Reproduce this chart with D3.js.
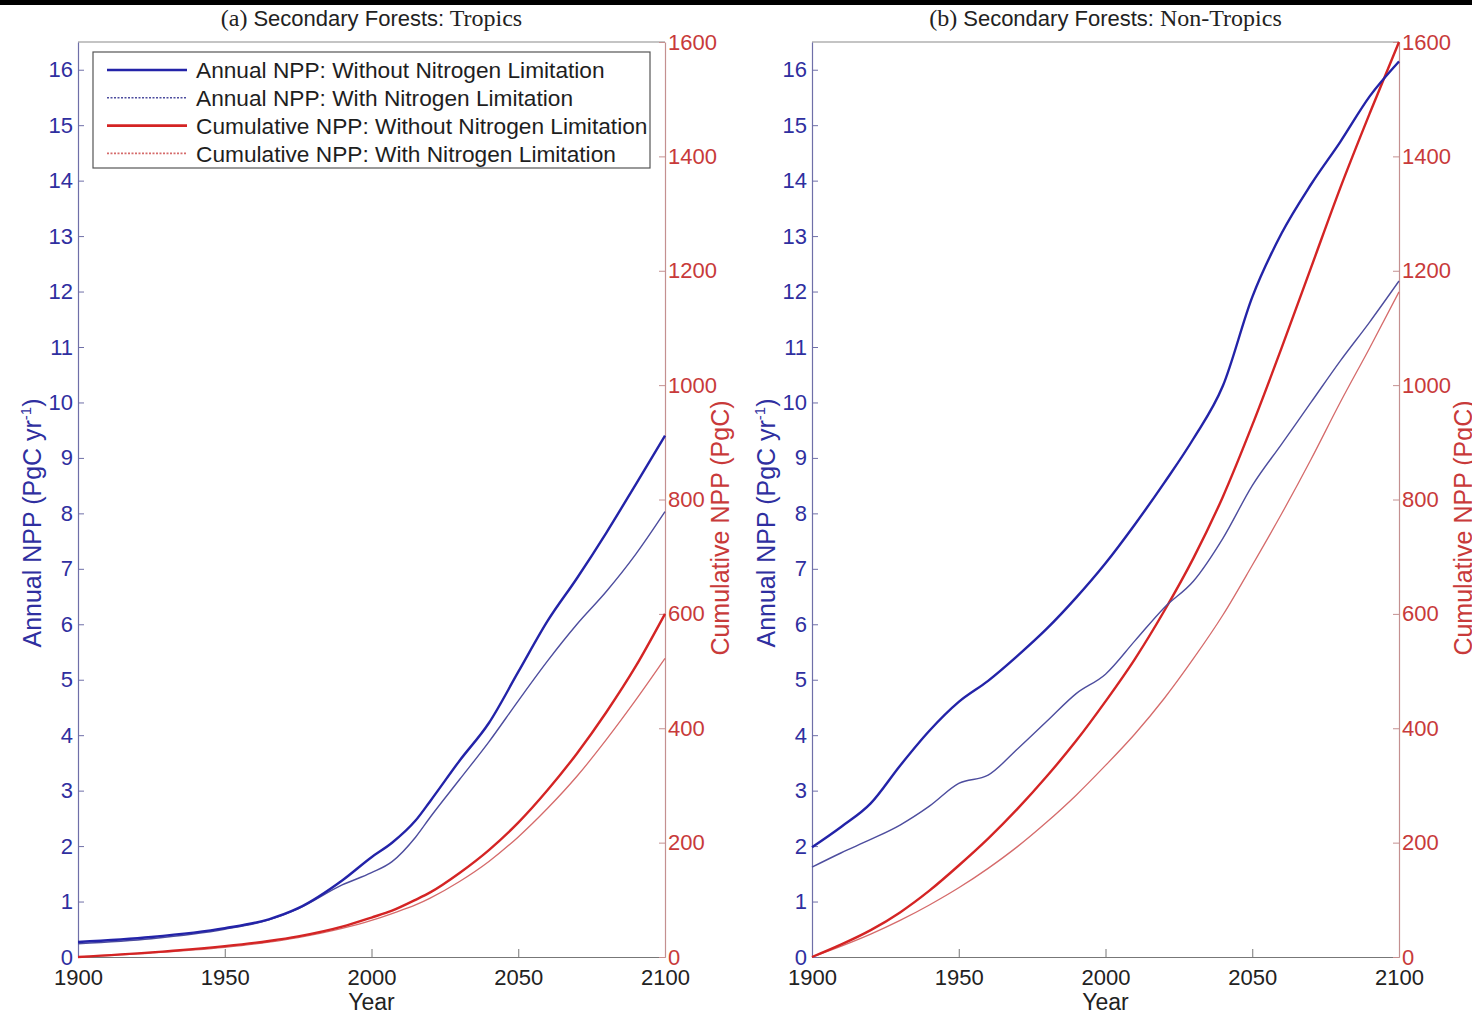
<!DOCTYPE html>
<html>
<head>
<meta charset="utf-8">
<script src="https://cdn.jsdelivr.net/npm/d3@7"></script>
<style>
  body { margin: 0; background: #fff; }
  svg { display: block; }
</style>
</head>
<body>
<div id="chart"></div>
<script>
// years sampled for each panel
const yearsTropics = [1900, 1925, 1950, 1965, 1975, 1990, 2000, 2007, 2015, 2020, 2030, 2040, 2050, 2060, 2070, 2080, 2090, 2100];
const yearsNonTropics = [1900, 1910, 1920, 1930, 1940, 1950, 1960, 1970, 1980, 1990, 2000, 2010, 2020, 2030, 2040, 2050, 2060, 2070, 2080, 2090, 2100];

// (a) tropics, PgC/yr and PgC
const annualTropicsNoN = [0.27, 0.36, 0.52, 0.68, 0.88, 1.38, 1.80, 2.06, 2.46, 2.81, 3.54, 4.22, 5.14, 6.06, 6.83, 7.65, 8.52, 9.40];
const annualTropicsN = [0.24, 0.33, 0.50, 0.67, 0.87, 1.30, 1.52, 1.72, 2.16, 2.52, 3.20, 3.88, 4.62, 5.34, 6.00, 6.59, 7.26, 8.03];
const cumTropicsNoN = [0, 8, 19, 28, 36, 53, 69, 81, 100, 113, 147, 187, 235, 292, 356, 428, 508, 600];
const cumTropicsN = [0, 7, 17, 26, 34, 50, 64, 76, 91, 103, 132, 167, 210, 260, 316, 380, 449, 522];

// (b) non-tropics
const annualNonTropicsNoN = [1.98, 2.35, 2.77, 3.45, 4.08, 4.60, 4.98, 5.43, 5.92, 6.48, 7.10, 7.80, 8.55, 9.35, 10.30, 11.90, 13.05, 13.93, 14.70, 15.52, 16.15];
const annualNonTropicsN = [1.62, 1.88, 2.12, 2.38, 2.72, 3.13, 3.28, 3.75, 4.25, 4.75, 5.10, 5.70, 6.30, 6.78, 7.55, 8.50, 9.25, 10.00, 10.75, 11.45, 12.19];
const cumNonTropicsNoN = [0, 22, 47, 78, 116, 160, 207, 259, 316, 378, 447, 521, 605, 698, 805, 930, 1065, 1205, 1345, 1475, 1600];
const cumNonTropicsN = [0, 19, 40, 64, 91, 121, 155, 193, 236, 283, 335, 390, 452, 522, 598, 685, 775, 870, 970, 1065, 1163];

// axes
const xTicks = [1900, 1950, 2000, 2050, 2100];
const annualTicks = d3.range(0, 17);
const cumTicks = [0, 200, 400, 600, 800, 1000, 1200, 1400, 1600];
const legendLabels = [
    'Annual NPP: Without Nitrogen Limitation',
    'Annual NPP: With Nitrogen Limitation',
    'Cumulative NPP: Without Nitrogen Limitation',
    'Cumulative NPP: With Nitrogen Limitation'
];

const W = 1472, H = 1014;
const TOP = 42, BOTTOM = 957;
const BLUE = '#2323a8', BLUE_THIN = '#4d4d9e', RED = '#d42424', RED_THIN = '#d56b6b';
const SANS = 'Liberation Sans, Arial, Helvetica, sans-serif';
const SERIF = 'Liberation Serif, Times New Roman, serif';

const svg = d3.select('#chart').append('svg')
    .attr('width', W)
    .attr('height', H);

svg.append('rect').attr('width', W).attr('height', H).attr('fill', '#fff');
svg.append('rect').attr('width', W).attr('height', 5).attr('fill', '#000'); // dark strip at the top

function drawPanel(p) {
    const g = svg.append('g');
    const x = d3.scaleLinear().domain([1900, 2100]).range([p.left, p.right]);
    const yA = d3.scaleLinear().domain([0, 16.5]).range([BOTTOM, TOP]);
    const yC = d3.scaleLinear().domain([0, 1600]).range([BOTTOM, TOP]);

    // frame top line
    g.append('line')
        .attr('x1', p.left).attr('x2', p.right)
        .attr('y1', TOP).attr('y2', TOP)
        .attr('stroke', '#8a8a8a').attr('stroke-width', 1.2);

    // x axis
    const xAxis = g.append('g')
        .attr('transform', 'translate(0,' + BOTTOM + ')')
        .call(d3.axisBottom(x).tickValues(xTicks).tickFormat(d3.format('d')).tickSize(-8).tickSizeOuter(0).tickPadding(12));
    xAxis.select('.domain').attr('stroke', '#777').attr('stroke-width', 1.2);
    xAxis.selectAll('.tick line').attr('stroke', '#777');
    xAxis.selectAll('text').attr('font-family', SANS).attr('font-size', 22).attr('fill', '#222');

    // left axis (annual)
    const leftAxis = g.append('g')
        .attr('transform', 'translate(' + p.left + ',0)')
        .call(d3.axisLeft(yA).tickValues(annualTicks).tickSize(-6).tickSizeOuter(0).tickPadding(5));
    leftAxis.select('.domain').attr('stroke', '#6f6fa8').attr('stroke-width', 1.2);
    leftAxis.selectAll('.tick line').attr('stroke', '#6f6fa8');
    leftAxis.selectAll('text').attr('font-family', SANS).attr('font-size', 22).attr('fill', '#2f2fa0');

    // right axis (cumulative)
    const rightAxis = g.append('g')
        .attr('transform', 'translate(' + p.right + ',0)')
        .call(d3.axisRight(yC).tickValues(cumTicks).tickFormat(d3.format('d')).tickSize(-6).tickSizeOuter(0).tickPadding(3));
    rightAxis.select('.domain').attr('stroke', '#c49090').attr('stroke-width', 1.2);
    rightAxis.selectAll('.tick line').attr('stroke', '#c49090');
    rightAxis.selectAll('text').attr('font-family', SANS).attr('font-size', 22).attr('fill', '#c83a3a');

    // lines
    const series = [
        { vals: p.cumN, scale: yC, color: RED_THIN, width: 1.3 },
        { vals: p.cumNoN, scale: yC, color: RED, width: 2.4 },
        { vals: p.annualN, scale: yA, color: BLUE_THIN, width: 1.4 },
        { vals: p.annualNoN, scale: yA, color: BLUE, width: 2.4 }
    ];
    series.forEach(function(s) {
        const line = d3.line()
            .x(function(d, i) { return x(p.years[i]); })
            .y(function(d) { return s.scale(d); })
            .curve(d3.curveMonotoneX);
        g.append('path')
            .datum(s.vals)
            .attr('d', line)
            .attr('fill', 'none')
            .attr('stroke', s.color)
            .attr('stroke-width', s.width);
    });

    // title
    const title = g.append('text')
        .attr('x', (p.left + p.right) / 2)
        .attr('y', 26)
        .attr('text-anchor', 'middle')
        .attr('font-size', 24)
        .attr('fill', '#222');
    title.append('tspan').attr('font-family', SERIF).text(p.tag + ' ');
    title.append('tspan').attr('font-family', SANS).attr('font-size', 22).text('Secondary Forests:');
    title.append('tspan').attr('font-family', SERIF).text(' ' + p.region);

    // x label
    g.append('text')
        .attr('x', (p.left + p.right) / 2)
        .attr('y', 1010)
        .attr('text-anchor', 'middle')
        .attr('font-family', SANS)
        .attr('font-size', 23)
        .attr('fill', '#222')
        .text('Year');

    // y labels
    const yl = g.append('text')
        .attr('transform', 'translate(' + p.leftLabelX + ',523) rotate(-90)')
        .attr('text-anchor', 'middle')
        .attr('font-family', SANS)
        .attr('font-size', 25)
        .attr('fill', '#2f2fa0');
    yl.append('tspan').text('Annual NPP (PgC yr');
    yl.append('tspan').attr('font-size', 15).attr('dy', -10).text('-1');
    yl.append('tspan').attr('dy', 10).text(')');

    g.append('text')
        .attr('transform', 'translate(' + p.rightLabelX + ',528) rotate(-90)')
        .attr('text-anchor', 'middle')
        .attr('font-family', SANS)
        .attr('font-size', 25)
        .attr('fill', '#c83a3a')
        .text('Cumulative NPP (PgC)');
}

drawPanel({
    left: 78, right: 665, tag: '(a)', region: 'Tropics',
    years: yearsTropics,
    annualNoN: annualTropicsNoN, annualN: annualTropicsN,
    cumNoN: cumTropicsNoN, cumN: cumTropicsN,
    leftLabelX: 41, rightLabelX: 729
});
drawPanel({
    left: 812, right: 1399, tag: '(b)', region: 'Non-Tropics',
    years: yearsNonTropics,
    annualNoN: annualNonTropicsNoN, annualN: annualNonTropicsN,
    cumNoN: cumNonTropicsNoN, cumN: cumNonTropicsN,
    leftLabelX: 775, rightLabelX: 1472
});

// legend (left panel)
const legend = svg.append('g');
legend.append('rect')
    .attr('x', 93).attr('y', 52)
    .attr('width', 557).attr('height', 116)
    .attr('fill', '#fff').attr('stroke', '#555').attr('stroke-width', 1.2);
const legendStyles = [
    { color: BLUE, width: 2.6, dash: null },
    { color: BLUE_THIN, width: 1.6, dash: '2,1.5' },
    { color: RED, width: 2.6, dash: null },
    { color: RED_THIN, width: 1.6, dash: '2,1.5' }
];
legendLabels.forEach(function(label, i) {
    const cy = 70 + i * 27.8;
    legend.append('line')
        .attr('x1', 107).attr('x2', 187)
        .attr('y1', cy).attr('y2', cy)
        .attr('stroke', legendStyles[i].color)
        .attr('stroke-width', legendStyles[i].width)
        .attr('stroke-dasharray', legendStyles[i].dash);
    legend.append('text')
        .attr('x', 196).attr('y', cy)
        .attr('dy', '0.36em')
        .attr('font-family', SANS)
        .attr('font-size', 22.7)
        .attr('fill', '#1e1e1e')
        .text(label);
});
</script>
</body>
</html>
